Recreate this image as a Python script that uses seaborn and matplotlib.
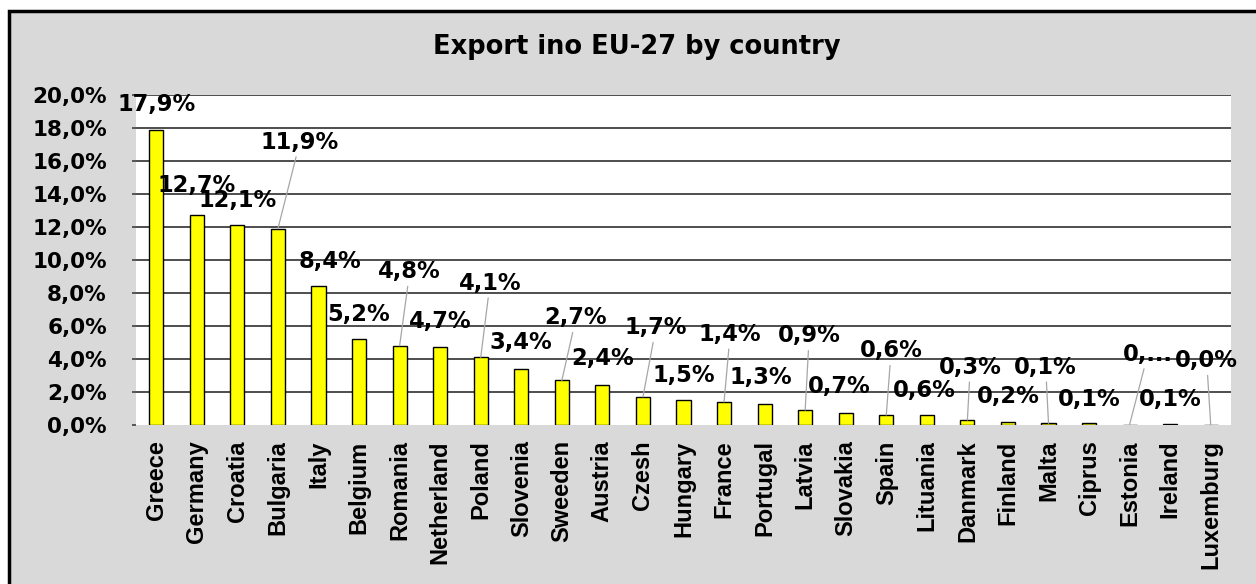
import matplotlib
matplotlib.use("Agg")
import matplotlib.pyplot as plt
from matplotlib.patches import Rectangle
from matplotlib.ticker import FuncFormatter
import seaborn as sns
import pandas as pd

# ---- data ----
countries = ["Greece", "Germany", "Croatia", "Bulgaria", "Italy", "Belgium", "Romania",
             "Netherland", "Poland", "Slovenia", "Sweeden", "Austria", "Czesh", "Hungary",
             "France", "Portugal", "Latvia", "Slovakia", "Spain", "Lituania", "Danmark",
             "Finland", "Malta", "Ciprus", "Estonia", "Ireland", "Luxemburg"]
values = [17.9, 12.7, 12.1, 11.9, 8.4, 5.2, 4.8, 4.7, 4.1, 3.4, 2.7, 2.4, 1.7, 1.5,
          1.4, 1.3, 0.9, 0.7, 0.6, 0.6, 0.3, 0.2, 0.1, 0.1, 0.03, 0.05, 0.01]
labels = ["17,9%", "12,7%", "12,1%", "11,9%", "8,4%", "5,2%", "4,8%", "4,7%", "4,1%",
          "3,4%", "2,7%", "2,4%", "1,7%", "1,5%", "1,4%", "1,3%", "0,9%", "0,7%",
          "0,6%", "0,6%", "0,3%", "0,2%", "0,1%", "0,1%", "0,...", "0,1%", "0,0%"]
yticks = [0, 2, 4, 6, 8, 10, 12, 14, 16, 18, 20]
title = "Export ino EU-27 by country"

# ---- label layout (styling) ----
label_dx = [0, 0, 0, 0.54, 0.28, 0, 0.25, 0, 0.23, 0, 0.35, 0, 0.32, 0, 0.15, -0.1,
            0.1, -0.15, 0.12, -0.07, 0.07, 0, -0.07, 0, 0.45, 0, -0.1]
label_y = [19.45, 14.5, 13.6, 17.15, 9.9, 6.7, 9.3, 6.3, 8.6, 5.0, 6.5, 4.0, 5.9, 3.0,
           5.5, 2.85, 5.4, 2.35, 4.5, 2.1, 3.5, 1.75, 3.5, 1.55, 4.3, 1.55, 3.9]
leader = [False, False, False, True, False, False, True, False, True, False, True, False,
          True, False, True, False, True, False, True, False, True, False, True, False,
          True, False, True]

sns.set_theme(style="white")
plt.rcParams["font.family"] = ["DejaVu Sans"]
plt.rcParams["text.color"] = "black"
plt.rcParams["xtick.labelcolor"] = "black"
plt.rcParams["ytick.labelcolor"] = "black"

W, H = 1256, 584
fig = plt.figure(figsize=(W / 100, H / 100), dpi=100, facecolor="white")

# outer chart frame (gray area with black border; right/bottom run off the image)
fig.patches.append(Rectangle((9 / W, -0.05), 1.2, 1 - 11 / H + 0.05,
                             transform=fig.transFigure, facecolor="#d9d9d9",
                             edgecolor="black", linewidth=2.5, zorder=-10))

ax = fig.add_axes([136 / W, 1 - 425 / H, (1231 - 136) / W, (425 - 95) / H])
ax.set_zorder(5)
ax.set_facecolor("white")

df = pd.DataFrame({"country": countries, "value": values})
sns.barplot(data=df, x="country", y="value", color="#ffff00", saturation=1,
            edgecolor="black", linewidth=1.0, width=0.35, ax=ax, zorder=3)

ax.set_ylim(0, 20)
ax.set_xlim(-0.5, len(countries) - 0.5)
ax.set_yticks(yticks)
for t in yticks[1:]:
    ax.axhline(t, color="#404040", lw=1.3, zorder=1)
ax.yaxis.set_major_formatter(FuncFormatter(lambda v, p: f"{v:.1f}%".replace(".", ",")))
for s in ax.spines.values():
    s.set_visible(False)
ax.tick_params(axis="y", left=True, length=3, width=1.2, color="#404040", pad=18,
               labelsize=15.5, labelcolor="black")
ax.tick_params(axis="x", bottom=False, length=0, pad=11, labelcolor="black")
for lab in ax.get_yticklabels():
    lab.set_fontweight("bold")
ax.set_xticks(range(len(countries)))
ax.set_xticklabels(countries, rotation=90, ha="center", va="top",
                   fontsize=17, fontweight="bold", family="Liberation Sans",
                   color="black")
ax.set_xlabel("")
ax.set_ylabel("")

for i, (v, lab) in enumerate(zip(values, labels)):
    kw = {}
    if leader[i]:
        kw["arrowprops"] = dict(arrowstyle="-", color="#a6a6a6", lw=0.9,
                                shrinkA=0, shrinkB=0)
    ax.annotate(lab, xy=(i, v), xytext=(i + label_dx[i], label_y[i]),
                ha="center", va="center", fontsize=16.3, fontweight="bold",
                color="black", annotation_clip=False, zorder=5, **kw)

fig.text(637 / W, 1 - 47 / H, title, ha="center", va="center", fontsize=18.5,
         fontweight="bold", color="black")

fig.savefig("out.png", dpi=100, facecolor="white")
